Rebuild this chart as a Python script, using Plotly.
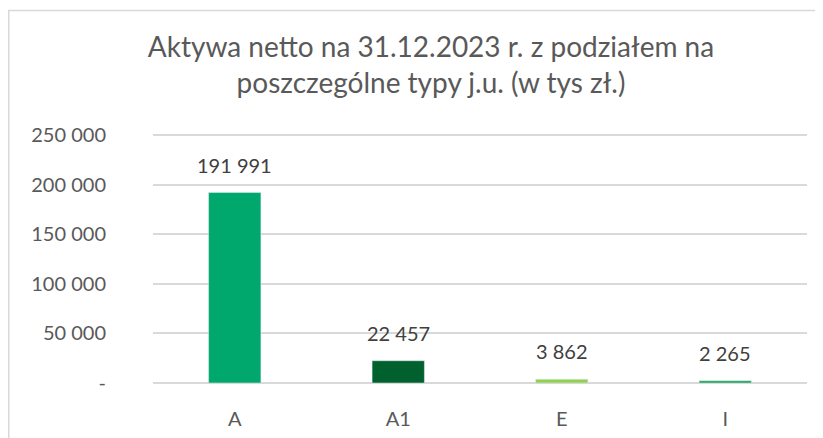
import plotly.graph_objects as go

categories = ["A", "A1", "E", "I"]
values = [191991, 22457, 3862, 2265]
colors = ["#00A86E", "#00612E", "#92D050", "#17A35A"]
labels = ["191 991", "22 457", "3 862", "2 265"]
tick_vals = [0, 50000, 100000, 150000, 200000, 250000]
tick_text = ["-", "50 000", "100 000", "150 000", "200 000", "250 000"]
title_text = "Aktywa netto na 31.12.2023 r. z podziałem na<br>poszczególne typy j.u. (w tys zł.)"

# page body has an 8px default margin: figure origin sits at (8, 8)
OFF = 8
W, H = 823 - OFF, 438 - OFF
Y_MAX = 253000
SCALE = 248 / 250000
L, R, B = 153 - OFF, 16, 55
T = round(135 - OFF - (Y_MAX - 250000) * SCALE)

fig = go.Figure(go.Bar(
    x=categories, y=values, marker_color=colors, width=0.32,
))

for c, v, t in zip(categories, values, labels):
    fig.add_annotation(x=c, y=v, text=t, showarrow=False, yanchor="bottom",
                       yshift=14, font=dict(size=20, color="#404040", family="Lato"))

pw = W - L - R
ph = H - T - B
fig.add_shape(type="rect", xref="paper", yref="paper",
              x0=(0.75 - L) / pw, x1=(W + 20 - L) / pw,
              y0=(H - B - (H + 20)) / ph, y1=(H - B - 2.5) / ph,
              line=dict(color="#D9D9D9", width=1.5), fillcolor="rgba(0,0,0,0)",
              layer="above")

fig.update_layout(
    width=W, height=H,
    margin=dict(l=L, r=R, t=T, b=B, autoexpand=False),
    paper_bgcolor="white", plot_bgcolor="white",
    showlegend=False,
    font=dict(family="Lato", color="#595959"),
    title=dict(text=title_text, x=(431 - OFF) / W, xanchor="center", xref="container",
               y=1 - (57 - OFF) / H, yanchor="middle", yref="container",
               font=dict(size=28, color="#595959", family="Lato")),
)
fig.update_yaxes(range=[0, Y_MAX], tickvals=tick_vals, ticktext=tick_text,
                 showgrid=True, gridcolor="#D9D9D9", gridwidth=1.5,
                 zeroline=True, zerolinecolor="#D9D9D9", zerolinewidth=1.5,
                 showline=False, ticks="outside", ticklen=42,
                 tickcolor="rgba(0,0,0,0)", automargin=False,
                 tickfont=dict(size=20, color="#595959"))
fig.update_xaxes(showgrid=False, showline=False, ticks="outside", ticklen=18,
                 tickcolor="rgba(0,0,0,0)", automargin=False,
                 tickfont=dict(size=20, color="#595959"))

fig.write_html("out.html")
